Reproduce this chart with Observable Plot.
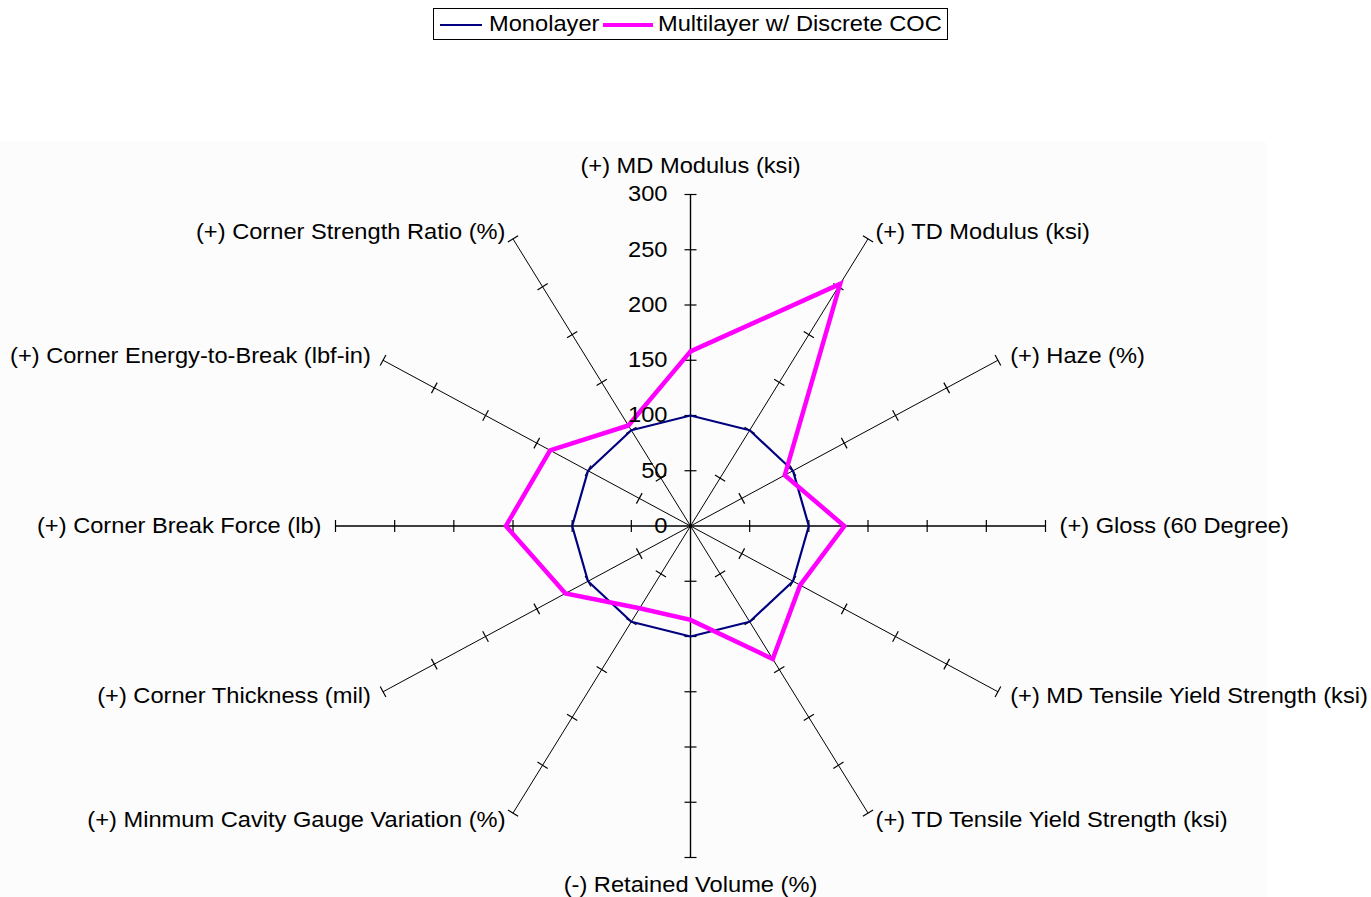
<!DOCTYPE html>
<html>
<head>
<meta charset="utf-8">
<script src="https://cdn.jsdelivr.net/npm/d3@7"></script>
<script src="https://cdn.jsdelivr.net/npm/@observablehq/plot@0.6"></script>
<style>
  body { margin: 0; background: #ffffff; font-family: "Liberation Sans", Arial, sans-serif; }
  #wrap { position: relative; width: 1371px; height: 897px; overflow: hidden; }
  #bg { position: absolute; left: 0; top: 142px; width: 1266px; height: 755px; background: #fcfcfc; }
  #chart { position: absolute; left: 0; top: 0; }
  #legend { position: absolute; left: 433px; top: 8px; width: 515px; height: 32px; border: 1px solid #000; background: #fff; box-sizing: border-box; }
  .lg-line { position: absolute; top: 15px; }
  .lg-text { position: absolute; top: 2px; font-size: 21.5px; line-height: 26px; color: #000; white-space: nowrap; transform-origin: left center; transform: scaleX(1.1); }
</style>
</head>
<body>
<div id="wrap">
  <div id="bg"></div>
  <div id="chart"></div>
  <div id="legend"></div>
</div>
<script>
// ---- data ----
const axisLabels = [
  "(+) MD Modulus (ksi)",
  "(+) TD Modulus (ksi)",
  "(+) Haze (%)",
  "(+) Gloss (60 Degree)",
  "(+) MD Tensile Yield Strength (ksi)",
  "(+) TD Tensile Yield Strength (ksi)",
  "(-) Retained Volume (%)",
  "(+) Minmum Cavity Gauge Variation (%)",
  "(+) Corner Thickness (mil)",
  "(+) Corner Break Force (lb)",
  "(+) Corner Energy-to-Break (lbf-in)",
  "(+) Corner Strength Ratio (%)"
];
const monolayer  = [100, 100, 100, 100, 100, 100, 100, 100, 100, 100, 100, 100];
const multilayer = [158, 253, 92, 130, 107, 139, 85, 86, 122, 156, 137, 105];
const tickValues = [0, 50, 100, 150, 200, 250, 300];
const seriesNames = ["Monolayer", "Multilayer w/ Discrete COC"];
const seriesColors = ["#000080", "#ff00ff"];

// ---- geometry ----
const rMax = d3.max(tickValues);
const xRange = [335, 1045];
const yRange = [857, 194];
const kx = (xRange[1] - xRange[0]) / (2 * rMax);   // px per unit horizontally
const ky = (yRange[0] - yRange[1]) / (2 * rMax);   // px per unit vertically
const n = axisLabels.length;
const ang = i => i * 2 * Math.PI / n;
const polar = (r, i) => ({x: r * Math.sin(ang(i)), y: r * Math.cos(ang(i))});

const spokes = axisLabels.map((label, i) => ({label, i, ...polar(rMax, i)}));

// perpendicular tick marks (±6px), converted back to data units
const tickHalf = 6;
const ticks = [];
axisLabels.forEach((_, i) => {
  const ux = Math.sin(ang(i)) * kx, uy = -Math.cos(ang(i)) * ky;
  const L = Math.hypot(ux, uy);
  const px = -uy / L, py = ux / L;
  const ddx = tickHalf * px / kx, ddy = -tickHalf * py / ky;
  tickValues.filter(v => v > 0).forEach(v => {
    const p = polar(v, i);
    ticks.push({x1: p.x - ddx, y1: p.y - ddy, x2: p.x + ddx, y2: p.y + ddy});
  });
});

const closed = vals => [...vals, vals[0]].map((v, k) => polar(v, k % n));

const labelMarks = spokes.map(s => {
  const a = ang(s.i);
  const sn = Math.sin(a), cs = Math.cos(a);
  const anchor = Math.abs(sn) < 1e-6 ? "middle" : (sn > 0 ? "start" : "end");
  const dx = anchor === "middle" ? 0 : 13 * sn + (sn > 0 ? 1 : -1) * 1;
  const dy = anchor === "middle" ? -28 * cs : -8 * cs;
  return Plot.text([s], {x: "x", y: "y", text: "label", textAnchor: anchor, dx, dy,
    fontSize: 21.5, fill: "#000"});
});

const chart = Plot.plot({
  width: 1371,
  height: 897,
  x: {domain: [-rMax, rMax], range: xRange, axis: null},
  y: {domain: [-rMax, rMax], range: yRange, axis: null},
  style: {background: "transparent", fontFamily: "'Liberation Sans', Arial, sans-serif", overflow: "visible"},
  marks: [
    Plot.link(spokes, {x1: () => 0, y1: () => 0, x2: "x", y2: "y", stroke: "#000", strokeWidth: d => (d.i % 3 === 0 ? 1.4 : 1)}),
    Plot.link(ticks, {x1: "x1", y1: "y1", x2: "x2", y2: "y2", stroke: "#000", strokeWidth: 1.2}),
    Plot.line(closed(monolayer), {x: "x", y: "y", stroke: seriesColors[0], strokeWidth: 2.2, strokeLinejoin: "miter"}),
    Plot.line(closed(multilayer), {x: "x", y: "y", stroke: seriesColors[1], strokeWidth: 4.5, strokeLinejoin: "miter", strokeMiterlimit: 10}),
    Plot.text(tickValues, {x: () => 0, y: d => d, text: d => String(d), textAnchor: "end", dx: -23, fontSize: 21.5, fill: "#000"}),
    ...labelMarks
  ]
});
document.getElementById("chart").appendChild(chart);

// horizontal stretch of text to match the reference's wide glyphs
chart.querySelectorAll("text").forEach(t => {
  const w = t.getComputedTextLength();
  if (w > 0) {
    t.setAttribute("textLength", (w * 1.1).toFixed(1));
    t.setAttribute("lengthAdjust", "spacingAndGlyphs");
  }
});

// legend
const legend = document.getElementById("legend");
const items = [
  {lineLeft: 6, lineW: 42, h: 2, textLeft: 55},
  {lineLeft: 169, lineW: 50, h: 4, textLeft: 224}
];
seriesNames.forEach((name, k) => {
  const ln = document.createElement("div");
  ln.className = "lg-line";
  ln.style.left = items[k].lineLeft + "px";
  ln.style.width = items[k].lineW + "px";
  ln.style.height = items[k].h + "px";
  ln.style.marginTop = (-items[k].h / 2 + 1) + "px";
  ln.style.background = seriesColors[k];
  legend.appendChild(ln);
  const tx = document.createElement("div");
  tx.className = "lg-text";
  tx.style.left = items[k].textLeft + "px";
  tx.textContent = name;
  legend.appendChild(tx);
});
</script>
</body>
</html>
